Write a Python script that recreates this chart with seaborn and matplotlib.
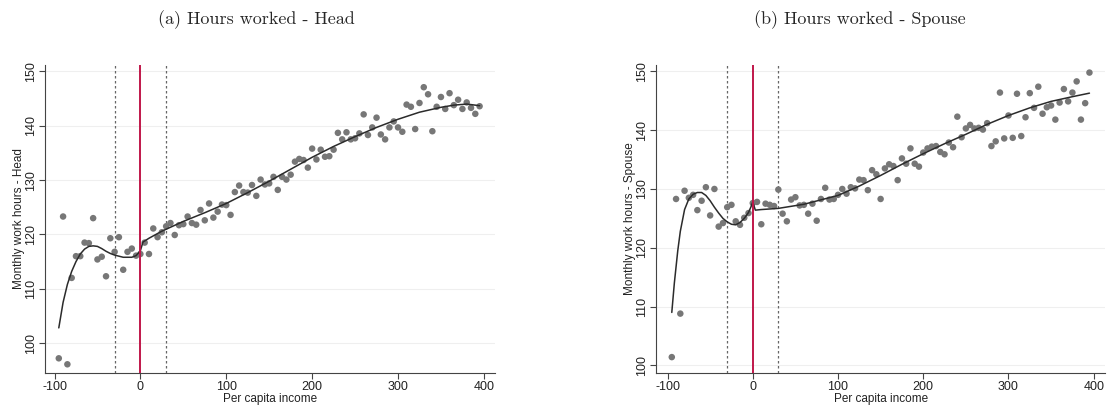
import numpy as np
import pandas as pd
import matplotlib
matplotlib.use("Agg")
import matplotlib.pyplot as plt
import seaborn as sns

# ---------------- data ----------------
bins = [-95, -90, -85, -80, -75, -70, -65, -60, -55, -50, -45, -40, -35, -30, -25, -20, -15, -10, -5, 0,
        5, 10, 15, 20, 25, 30, 35, 40, 45, 50, 55, 60, 65, 70, 75, 80, 85, 90, 95, 100,
        105, 110, 115, 120, 125, 130, 135, 140, 145, 150, 155, 160, 165, 170, 175, 180, 185, 190, 195, 200,
        205, 210, 215, 220, 225, 230, 235, 240, 245, 250, 255, 260, 265, 270, 275, 280, 285, 290, 295, 300,
        305, 310, 315, 320, 325, 330, 335, 340, 345, 350, 355, 360, 365, 370, 375, 380, 385, 390, 395]

head_hours = [97.2, 123.3, 96.1, 112.0, 116.0, 116.0, 118.5, 118.4, 123.0, 115.4, 115.9, 112.3, 119.3, 116.8, 119.5,
              113.5, 116.8, 117.4, 116.1, 116.4, 118.5, 116.4, 121.1, 119.5, 120.4, 121.5, 122.1, 119.9, 121.7, 121.9,
              123.3, 122.1, 121.8, 124.5, 122.6, 125.7, 123.1, 124.2, 125.5, 125.4, 123.6, 127.8, 129.0, 127.8, 127.7,
              129.1, 127.1, 130.1, 129.2, 129.4, 130.6, 128.2, 130.6, 130.1, 131.0, 133.4, 133.9, 133.7, 132.3, 135.8,
              133.8, 135.6, 134.3, 134.4, 135.6, 138.7, 137.5, 138.8, 137.5, 137.7, 138.6, 142.1, 138.3, 139.7, 141.5,
              138.4, 137.5, 139.7, 140.8, 139.7, 138.9, 143.9, 143.5, 139.4, 144.2, 147.1, 145.8, 139.0, 143.5, 145.3,
              143.1, 146.0, 143.8, 144.8, 143.1, 144.3, 143.3, 142.2, 143.6]

spouse_hours = [101.4, 128.3, 108.8, 129.7, 128.5, 129.0, 126.4, 128.0, 130.3, 125.5, 130.0, 123.6, 124.2, 126.9, 127.3,
                124.5, 123.9, 125.1, 125.9, 127.6, 127.8, 124.0, 127.5, 127.3, 127.1, 129.9, 125.8, 124.5, 128.2, 128.6,
                127.2, 127.3, 125.8, 127.5, 124.6, 128.3, 130.2, 128.2, 128.3, 129.0, 130.0, 129.2, 130.3, 130.1, 131.6,
                131.5, 129.8, 133.2, 132.5, 128.3, 133.5, 134.2, 133.9, 131.5, 135.2, 134.3, 136.9, 134.3, 133.8, 136.2,
                136.9, 137.2, 137.3, 136.3, 135.9, 137.9, 137.1, 142.3, 138.8, 140.3, 140.9, 140.3, 140.4, 140.1, 141.2,
                137.3, 138.1, 146.4, 138.6, 142.5, 138.7, 146.2, 139.0, 142.2, 146.3, 143.8, 147.4, 142.8, 143.9, 144.2,
                141.8, 144.7, 147.0, 144.9, 146.4, 148.3, 141.8, 144.6, 149.8]

head_fit_x = [-95, -90, -85, -80, -75, -70, -65, -60, -55, -50, -45, -40, -35, -30, -25, -20, -15, -10, -5, 0, 3,
              10, 25, 50, 75, 100, 125, 150, 175, 200, 225, 250, 275, 300, 325, 350, 365, 380, 395]
head_fit_y = [102.8, 107.5, 110.8, 113.2, 115.0, 116.4, 117.3, 117.8, 117.9, 117.8, 117.4, 116.9, 116.5, 116.2, 116.0,
              115.8, 115.8, 115.8, 116.1, 117.0, 118.6, 119.3, 120.6, 122.4, 124.0, 125.7, 127.7, 129.8, 132.0, 134.2,
              136.2, 138.0, 139.7, 141.2, 142.5, 143.4, 143.8, 144.0, 143.7]

spouse_fit_x = [-95, -92, -88, -85, -80, -75, -70, -65, -60, -55, -50, -45, -40, -35, -30, -25, -20, -15, -10, -5, -2,
                0, 3, 10, 30, 60, 100, 125, 150, 175, 200, 225, 250, 275, 300, 325, 350, 375, 395]
spouse_fit_y = [109.0, 114.0, 119.5, 122.8, 126.5, 128.3, 129.1, 129.4, 129.4, 128.9, 128.0, 126.9, 125.9, 125.0, 124.4,
                124.0, 123.9, 124.3, 125.0, 126.0, 127.0, 127.8, 126.4, 126.5, 126.7, 127.4, 128.9, 130.5, 132.3, 134.2,
                136.0, 137.7, 139.3, 141.0, 142.5, 143.8, 144.9, 145.7, 146.3]

titles = ["(a) Hours worked - Head", "(b) Hours worked - Spouse"]
ylabels = ["Monthly work hours - Head", "Monthly work hours - Spouse"]
xlabel = "Per capita income"
x_ticks = [-100, 0, 100, 200, 300, 400]
y_ticks = [100, 110, 120, 130, 140, 150]
cutoff = 0
band = [-30, 30]

# ---------------- plot ----------------
sns.set_theme(style="white")
plt.rcParams['font.family'] = ['Liberation Sans', 'DejaVu Sans']

fig = plt.figure(figsize=(11.07, 4.11), dpi=100)
ax1 = fig.add_axes([0.0407, 0.0925, 0.4065, 0.7495])
ax2 = fig.add_axes([0.593, 0.0925, 0.405, 0.7495])

panels = [
    (ax1, head_hours, head_fit_x, head_fit_y, (-111, 413), (94.5, 151.2)),
    (ax2, spouse_hours, spouse_fit_x, spouse_fit_y, (-113, 413), (98.7, 151.1)),
]

for i, (ax, ys, fx, fy, xl, yl) in enumerate(panels):
    df = pd.DataFrame({"x": bins, "y": ys})
    fit = pd.DataFrame({"x": fx, "y": fy})
    for yt in y_ticks:
        ax.axhline(yt, color="#efefef", lw=0.8, zorder=0)
    ax.axvline(band[0], color="#666666", lw=0.9, ls=(0, (2, 2)), zorder=1)
    ax.axvline(band[1], color="#666666", lw=0.9, ls=(0, (2, 2)), zorder=1)
    sns.scatterplot(data=df, x="x", y="y", ax=ax, color="#777777", s=22, edgecolor="none", zorder=3)
    sns.lineplot(data=fit, x="x", y="y", ax=ax, color="#2b2b2b", lw=1.1, zorder=4, sort=False)
    ax.axvline(cutoff, color="#c0174a", lw=1.4, zorder=5)
    ax.set_xlim(*xl)
    ax.set_ylim(*yl)
    ax.set_xticks(x_ticks)
    ax.set_yticks(y_ticks)
    ax.set_xticklabels([str(t) for t in x_ticks], fontsize=9, color="#222222")
    ax.set_yticklabels([str(t) for t in y_ticks], fontsize=9, color="#222222", rotation=90, va="center")
    ax.set_xlabel(xlabel, fontsize=8.5, color="#222222", labelpad=0)
    ax.set_ylabel(ylabels[i], fontsize=8.5, color="#222222", labelpad=0)
    ax.grid(False)
    for s in ["top", "right"]:
        ax.spines[s].set_visible(False)
    for s in ["left", "bottom"]:
        ax.spines[s].set_color("#444444")
        ax.spines[s].set_linewidth(0.8)
    ax.tick_params(axis="both", direction="out", length=4, width=0.8, color="#444444", pad=2,
                   bottom=True, left=True)

fig.text(0.232, 0.953, titles[0], ha="center", va="center", fontsize=13, family=["cmr10", "DejaVu Serif"])
fig.text(0.777, 0.953, titles[1], ha="center", va="center", fontsize=13, family=["cmr10", "DejaVu Serif"])

fig.savefig("out.png", dpi=100)
